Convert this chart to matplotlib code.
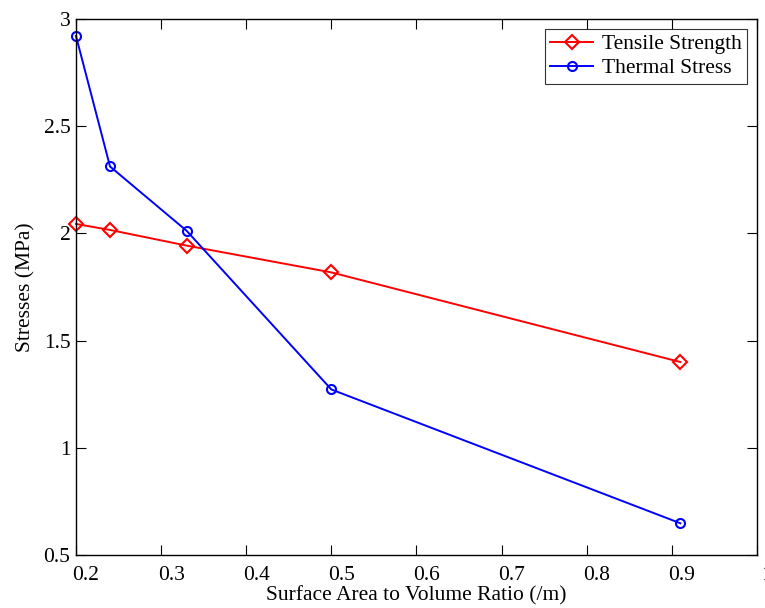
import numpy as np
import matplotlib
matplotlib.use("Agg")
import matplotlib.pyplot as plt
from matplotlib.transforms import ScaledTranslation

# surface area to volume ratio (/m)
ratio = [0.2, 0.24, 0.33, 0.5, 0.91]
# stresses in MPa
tensile = [2.044, 2.016, 1.943, 1.818, 1.400]
thermal = [2.921, 2.312, 2.012, 1.272, 0.648]

xticks = [0.2, 0.3, 0.4, 0.5, 0.6, 0.7, 0.8, 0.9, 1.0]
xticklabels = ["0.2", "0.3", "0.4", "0.5", "0.6", "0.7", "0.8", "0.9", "1"]
yticks = [0.5, 1.0, 1.5, 2.0, 2.5, 3.0]
yticklabels = ["0.5", "1", "1.5", "2", "2.5", "3"]

plt.rcParams["font.family"] = ["Liberation Serif", "DejaVu Serif"]
fs = 15.5

fig = plt.figure(figsize=(7.65, 6.08), dpi=100)
ax = fig.add_axes([0.0993, 0.0872, 0.8902, 0.8816])

ax.plot(ratio, tensile, color="red", lw=1.4, marker="D", ms=7,
        mfc="none", mec="red", mew=1.5, label="Tensile Strength", clip_on=False)
ax.plot(ratio, thermal, color="blue", lw=1.4, marker="o", ms=6.5,
        mfc="none", mec="blue", mew=1.5, label="Thermal Stress", clip_on=False)

ax.set_xlim(0.2, 1.0)
ax.set_ylim(0.5, 3.0)
ax.set_xticks(xticks)
ax.set_xticklabels(xticklabels)
ax.set_yticks(yticks)
ax.set_yticklabels(yticklabels)
ax.tick_params(direction="in", length=7, width=0.8, top=True, right=True,
               labelsize=fs, colors="black")
ax.tick_params(axis="x", pad=8)
ax.tick_params(axis="y", pad=4)
for s in ax.spines.values():
    s.set_linewidth(1.0)

# x tick labels sit a little right of their ticks
shift = ScaledTranslation(10 / 100, 0, fig.dpi_scale_trans)
for lbl in ax.get_xticklabels():
    lbl.set_transform(lbl.get_transform() + shift)

ax.set_xlabel("Surface Area to Volume Ratio (/m)", fontsize=fs, labelpad=1)
ax.set_ylabel("Stresses (MPa)", fontsize=fs, labelpad=6)

leg = ax.legend(loc="upper right", fontsize=fs, frameon=True, fancybox=False,
                edgecolor="black", borderaxespad=0.45, handlelength=2.0,
                handletextpad=0.4, borderpad=0.25, labelspacing=0.2)
leg.get_frame().set_linewidth(0.8)

fig.savefig("out.png", dpi=100)
